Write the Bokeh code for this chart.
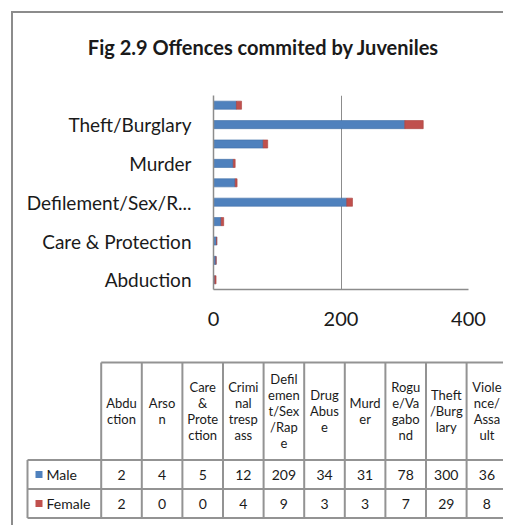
from bokeh.plotting import figure
from bokeh.models import Range1d, FixedTicker, ColumnDataSource
from bokeh.embed import file_html
from bokeh.resources import INLINE
from bokeh.core.properties import value

# ---------------- data ----------------
categories = ["Abduction", "Arson", "Care & Protection", "Criminal trespass",
              "Defilement/Sex/Rape", "Drug Abuse", "Murder", "Rogue/Vagabond",
              "Theft/Burglary", "Violence/Assault"]
male = [2, 4, 5, 12, 209, 34, 31, 78, 300, 36]
female = [2, 0, 0, 4, 9, 3, 3, 7, 29, 8]
series = ["Male", "Female"]
x_ticks = [0, 200, 400]
title_text = "Fig 2.9 Offences commited by Juveniles"

# ---------------- style ----------------
BLUE = "#4F81BD"
RED = "#C0504D"
GRID = "#8c8c8c"
TXT = "#1a1a1a"
FONT = "Lato"
W = 492
H_TITLE = 50
H_TOP = 280
H_TAB = 184
BORDER = "2px solid #8c8c8c"


def shorten(name, n=17):
    return name if len(name) <= n else name[:n - 1] + "..."


# approximate Calibri advance widths (em) to reproduce the cell wrapping
_CW = {'a': .479, 'b': .525, 'c': .423, 'd': .525, 'e': .498, 'f': .305, 'g': .471,
       'h': .525, 'i': .229, 'j': .239, 'k': .455, 'l': .229, 'm': .799, 'n': .525,
       'o': .527, 'p': .525, 'q': .525, 'r': .349, 's': .391, 't': .335, 'u': .525,
       'v': .452, 'w': .715, 'x': .433, 'y': .453, 'z': .395, '/': .386, '&': .682,
       ' ': .226, 'A': .579, 'B': .544, 'C': .533, 'D': .615, 'M': .855, 'P': .517,
       'R': .563, 'S': .459, 'T': .487, 'V': .579}


def tw(s):
    return sum(_CW.get(ch, .55) for ch in s)


def wrap(text, cap=2.33):
    lines, cur = [], ""
    for word in text.split(" "):
        cand = (cur + " " + word) if cur else word
        if tw(cand) <= cap:
            cur = cand
            continue
        if cur:
            lines.append(cur)
        if tw(word) <= cap:
            cur = word
        else:
            chunk = ""
            for ch in word:
                if tw(chunk + ch) <= cap:
                    chunk += ch
                else:
                    lines.append(chunk)
                    chunk = ch
            cur = chunk
    if cur:
        lines.append(cur)
    return lines


def blank_canvas(h, margin, styles):
    f = figure(width=W, height=h, output_backend="svg", toolbar_location=None,
               x_range=Range1d(0, W), y_range=Range1d(h, 0), min_border=0,
               x_axis_type=None, y_axis_type=None, background_fill_color="white",
               border_fill_color="white", margin=margin, styles=styles)
    f.outline_line_color = None
    f.grid.visible = False
    return f


# ---------------- title strip ----------------
ttl = blank_canvas(H_TITLE, (11, 0, 0, 11),
                   {"border-left": BORDER, "border-top": BORDER})
ttl.text(x=[250], y=[33], text=[title_text], text_align="center",
         text_baseline="middle", text_font=value(FONT), text_font_style="bold",
         text_font_size="20px", text_color=TXT)

# ---------------- bar chart ----------------
idx = list(range(len(categories)))
total = [m + f for m, f in zip(male, female)]
src = ColumnDataSource(dict(y=idx, male=male, total=total))

p = figure(width=W, height=H_TOP, output_backend="svg", toolbar_location=None,
           x_range=Range1d(0, 400), y_range=Range1d(-0.5, len(categories) - 0.5),
           min_border_left=200, min_border_right=37, min_border_top=34,
           min_border_bottom=52, background_fill_color="white",
           border_fill_color="white", margin=(0, 0, 0, 11),
           styles={"border-left": BORDER})
p.outline_line_color = None

p.hbar(y="y", left=0, right="male", height=0.42, fill_color=BLUE,
       line_color="#3f6ea6", line_width=0.6, source=src)
p.hbar(y="y", left="male", right="total", height=0.42, fill_color=RED,
       line_color="#a8403d", line_width=0.6, source=src)

p.xaxis.ticker = FixedTicker(ticks=x_ticks)
p.xaxis.major_tick_line_color = None
p.xaxis.minor_tick_line_color = None
p.xaxis.axis_line_color = GRID
p.xaxis.axis_line_width = 1.5
p.xaxis.major_label_text_font = FONT
p.xaxis.major_label_text_font_size = "20px"
p.xaxis.major_label_text_color = TXT
p.xaxis.major_label_standoff = 16

p.yaxis.ticker = FixedTicker(ticks=idx[::2])
p.yaxis.major_label_overrides = {i: shorten(categories[i]) for i in idx[::2]}
p.yaxis.major_tick_line_color = None
p.yaxis.minor_tick_line_color = None
p.yaxis.axis_line_color = GRID
p.yaxis.axis_line_width = 1.5
p.yaxis.major_label_text_font = FONT
p.yaxis.major_label_text_font_size = "19px"
p.yaxis.major_label_text_color = TXT
p.yaxis.major_label_standoff = 16

p.xgrid.ticker = FixedTicker(ticks=x_ticks)
p.xgrid.grid_line_color = GRID
p.xgrid.grid_line_width = 1
p.ygrid.grid_line_color = None

# ---------------- data table ----------------
t = blank_canvas(H_TAB, (0, 0, 0, 11), {"border-left": BORDER})

LAB_L = 14.0
COL0 = 87.7
COLW = 40.6
HDR_T = 21.0
HDR_B = 118.5
ROW_H = 29.0
BOT = HDR_B + 2 * ROW_H
ncol = len(categories)
right_end = COL0 + ncol * COLW

x0s, y0s, x1s, y1s = [], [], [], []
x0s.append(COL0); y0s.append(HDR_T); x1s.append(right_end); y1s.append(HDR_T)
for k in range(3):
    yy = HDR_B + k * ROW_H
    x0s.append(LAB_L); y0s.append(yy); x1s.append(right_end); y1s.append(yy)
x0s.append(LAB_L); y0s.append(HDR_B); x1s.append(LAB_L); y1s.append(BOT)
for i in range(ncol + 1):
    xx = COL0 + i * COLW
    x0s.append(xx); y0s.append(HDR_T); x1s.append(xx); y1s.append(BOT)
t.segment(x0=x0s, y0=y0s, x1=x1s, y1=y1s, line_color="#939393", line_width=2)

hx, hy, htxt = [], [], []
hc = (HDR_T + HDR_B) / 2
for i, name in enumerate(categories):
    lines = wrap(name)
    n = len(lines)
    for k, ln in enumerate(lines):
        hx.append(COL0 + (i + 0.5) * COLW)
        hy.append(hc + (k - (n - 1) / 2) * 16)
        htxt.append(ln)
t.text(x=hx, y=hy, text=htxt, text_align="center", text_baseline="middle",
       text_font=value(FONT), text_font_size="13px", text_color=TXT)

for r, (vals, name, col) in enumerate(zip([male, female], series, [BLUE, RED])):
    yc = HDR_B + (r + 0.5) * ROW_H
    t.text(x=[COL0 + (i + 0.5) * COLW for i in range(ncol)], y=[yc] * ncol,
           text=[str(v) for v in vals], text_align="center", text_baseline="middle",
           text_font=value(FONT), text_font_size="14px", text_color=TXT)
    t.scatter(x=[LAB_L + 11.5], y=[yc], marker="square", size=7,
              fill_color=col, line_color=None)
    t.text(x=[LAB_L + 19], y=[yc], text=[name], text_align="left",
           text_baseline="middle", text_font=value(FONT), text_font_size="14px",
           text_color=TXT)

open("out.html", "w").write(file_html([ttl, p, t], INLINE))
